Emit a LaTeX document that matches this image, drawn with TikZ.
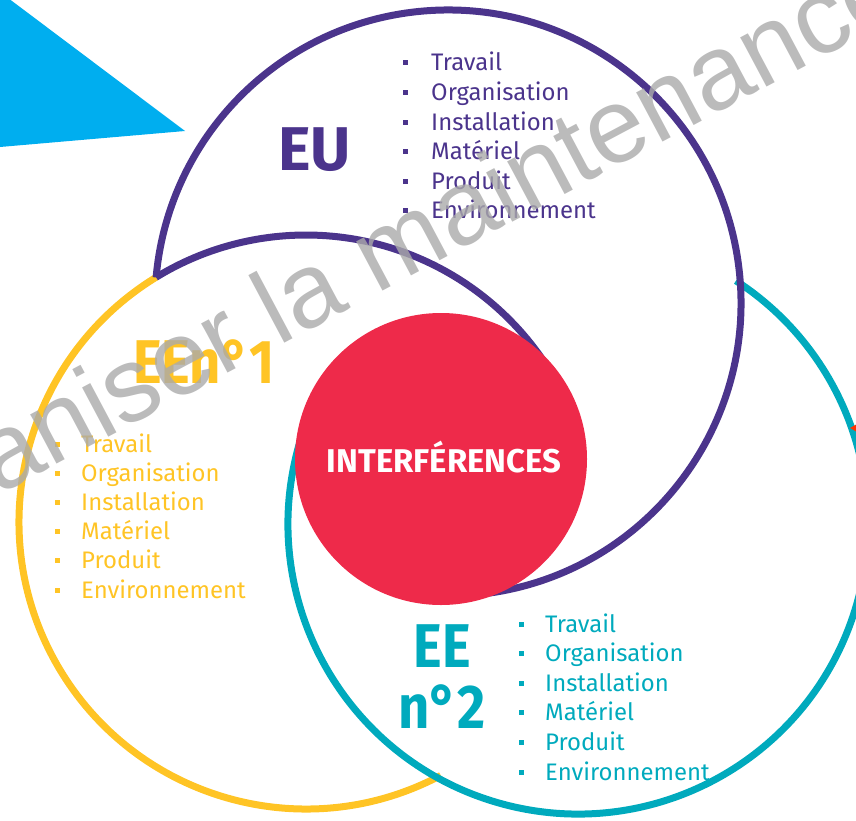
\documentclass[tikz,border=0pt]{standalone}
\usepackage{fontspec}
\setmainfont{Fira Sans}
\newfontfamily\narrowfont[FakeStretch=0.88]{Fira Sans}
\newfontfamily\wmfont{Liberation Sans}
\usetikzlibrary{calc}
\definecolor{euviolet}{RGB}{75,52,140}
\definecolor{eeyellow}{RGB}{255,196,37}
\definecolor{eecyan}{RGB}{0,170,189}
\definecolor{interfred}{RGB}{238,42,74}
\definecolor{arrowblue}{RGB}{0,174,239}
\definecolor{wmgray}{RGB}{170,170,170}
\tikzset{
    ring/.style={line width=7bp},
    item/.style={anchor=base west, inner sep=0pt, font=\fontsize{24}{24}\selectfont},
    bul/.style={fill, inner sep=0pt, minimum size=5bp},
    title/.style={inner sep=0pt, font=\fontsize{62}{62}\selectfont\bfseries},
    narrowtitle/.style={inner sep=0pt, font=\narrowfont\fontsize{62}{62}\selectfont\bfseries},
}

\begin{document}
\begin{tikzpicture}[x=1bp, y=-1bp]
\useasboundingbox (0,0) rectangle (856,821);
\begin{scope}
\clip (0,0) rectangle (856,821);
% blue corner
\fill[arrowblue] (0,-8) -- (185,131) -- (0,147) -- cycle;
\coordinate (eu) at (448,303);
\coordinate (ee1) at (306,522);
\coordinate (ee2) at (578,524);
\coordinate (mid) at (441,459);
% the three rings
\draw[ring, eeyellow] (ee1) ++(-121.5:287) arc[start angle=-121.5, end angle=-298, radius=287];
\draw[ring, eecyan] (ee2) ++(197:290) arc[start angle=197, end angle=-57, radius=290];
\draw[ring, euviolet] (eu) ++(82:293) arc[start angle=82, end angle=-175, radius=293];
\draw[ring, euviolet] (ee1) ++(-121.5:287) arc[start angle=-121.5, end angle=-28, radius=287];
\fill[interfred] (mid) circle[radius=146];
\fill[red!60!orange] (850,428) -- (857,424) -- (857,432) -- cycle;
% titles
\node[title, euviolet, anchor=base west] (eu-title) at (278,170) {EU};
\node[narrowtitle, eeyellow, anchor=base west] (ee1-title) at (133,383) {EEn°1};
\node[narrowtitle, eecyan, anchor=base] (ee2-title) at (442,667) {EE};
\node[narrowtitle, eecyan, anchor=base] (ee2-num) at (442,728) {n°2};
\node[white, inner sep=0pt, anchor=base, font=\fontsize{33}{33}\selectfont\bfseries] (interf) at (444,472) {INTERFÉRENCES};
% lists
\foreach \w [count=\i from 0] in {Travail,Organisation,Installation,Matériel,Produit,Environnement} {
    \node[item, euviolet] (eu-\i) at (431,71+29.5*\i) {\w};
    \node[bul, euviolet] (eub-\i) at (405,63+29.5*\i) {};
    \node[item, eeyellow] (ee1-\i) at (81,452+29.2*\i) {\w};
    \node[bul, eeyellow] (ee1b-\i) at (57,444+29.2*\i) {};
    \node[item, eecyan] (ee2-\i) at (545,632+29.6*\i) {\w};
    \node[bul, eecyan] (ee2b-\i) at (521,624+29.6*\i) {};
}
% watermark
\node[rotate=28, anchor=base west, inner sep=0pt, text=wmgray, text opacity=0.8, font=\wmfont\fontsize{106}{106}\selectfont] (wm) at (-157,578) {Organiser la maintenance};
\end{scope}
\end{tikzpicture}
\end{document}
